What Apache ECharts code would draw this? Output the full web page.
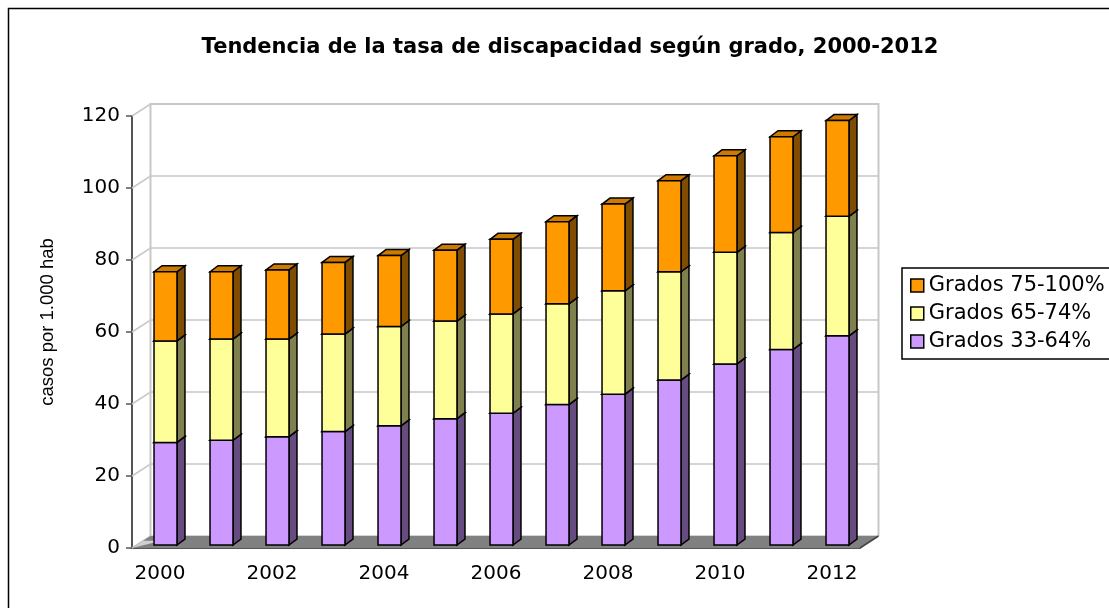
<!DOCTYPE html>
<html>
<head>
<meta charset="utf-8">
<title>Tendencia de la tasa de discapacidad</title>
<script src="https://cdn.jsdelivr.net/npm/echarts@6/dist/echarts.min.js"></script>
<style>
html, body { margin: 0; padding: 0; background: #fff; }
#main { width: 1109px; height: 608px; }
</style>
</head>
<body>
<div id="main"></div>
<script>
// datos (casos por 1.000 hab)
var years = ['2000', '2001', '2002', '2003', '2004', '2005', '2006', '2007', '2008', '2009', '2010', '2011', '2012'];
var grados3364 = [28.5, 29.1, 30.1, 31.5, 33.1, 35.1, 36.6, 39.0, 41.9, 45.8, 50.3, 54.3, 58.1];
var grados6574 = [28.2, 28.1, 27.1, 27.1, 27.6, 27.1, 27.6, 28.0, 28.7, 30.1, 31.0, 32.5, 33.2];
var grados75100 = [19.2, 18.7, 19.2, 19.9, 19.7, 19.7, 20.7, 22.8, 24.1, 25.3, 26.8, 26.6, 26.6];
var yTicks = [0, 20, 40, 60, 80, 100, 120];

// profundidad de la "caja" 3D (pared del fondo) y de las barras
var DX = 18.5, DY = 12;
var BDX = 8, BDY = 6;

var myChart = echarts.init(document.getElementById('main'));

// serie de barras 3D apiladas
function barra(name, vals, bases, front, side, top) {
	return {
		name: name,
		type: 'custom',
		coordinateSystem: 'cartesian2d',
		z: 5,
		itemStyle: { color: front, borderColor: '#000', borderWidth: 1.5 },
		data: vals.map(function(v, i) { return [i, bases[i], bases[i] + v]; }),
		encode: { x: 0, y: [1, 2] },
		renderItem: function(params, api) {
			var i = api.value(0);
			var p0 = api.coord([i, api.value(1)]);
			var p1 = api.coord([i, api.value(2)]);
			var band = api.size([1, 0])[0];
			var w = band * 0.41;
			var x = p0[0] - w / 2 + 5.5;
			var yb = p0[1] - 3, yt = p1[1] - 3;
			var st = { stroke: '#000', lineWidth: 1.5 };
			return {
				type: 'group',
				children: [
					{ type: 'polygon', shape: { points: [[x + w, yb], [x + w + BDX, yb - BDY], [x + w + BDX, yt - BDY], [x + w, yt]] },
					  style: { fill: side, stroke: st.stroke, lineWidth: st.lineWidth } },
					{ type: 'polygon', shape: { points: [[x, yt], [x + BDX, yt - BDY], [x + w + BDX, yt - BDY], [x + w, yt]] },
					  style: { fill: top, stroke: st.stroke, lineWidth: st.lineWidth } },
					{ type: 'rect', shape: { x: x, y: yt, width: w, height: yb - yt },
					  style: { fill: front, stroke: st.stroke, lineWidth: st.lineWidth } }
				]
			};
		}
	};
}

var base2 = grados3364.slice();
var base3 = grados3364.map(function(v, i) { return v + grados6574[i]; });
var base1 = grados3364.map(function() { return 0; });

myChart.setOption({
	animation: false,
	textStyle: { fontFamily: 'DejaVu Sans' },
	graphic: [{
		type: 'rect', silent: true,
		shape: { x: 8.5, y: 8.5, width: 1200, height: 700 },
		style: { fill: null, stroke: '#000', lineWidth: 1.5 }
	}],
	title: {
		text: 'Tendencia de la tasa de discapacidad según grado, 2000-2012',
		left: 565,
		textAlign: 'center',
		top: 32,
		textStyle: { fontSize: 21, fontWeight: 'bold', color: '#000', fontFamily: 'DejaVu Sans' }
	},
	legend: {
		orient: 'vertical',
		left: 902,
		top: 268,
		padding: [7, 30, 7, 8],
		itemGap: 7,
		itemWidth: 13,
		itemHeight: 13,
		icon: 'rect',
		borderColor: '#000',
		borderWidth: 1.5,
		itemStyle: { borderColor: '#000', borderWidth: 1.5 },
		textStyle: { fontSize: 21, color: '#000', fontFamily: 'DejaVu Sans' },
		data: ['Grados 75-100%', 'Grados 65-74%', 'Grados 33-64%']
	},
	grid: { left: 132, right: 249, top: 116, bottom: 60 },
	xAxis: {
		type: 'category',
		data: years,
		axisLine: { lineStyle: { color: '#555', width: 2 } },
		axisTick: { interval: 0, length: 6, lineStyle: { color: '#555', width: 1.5 } },
		axisLabel: { interval: 1, fontSize: 20, color: '#000', margin: 16 },
		splitLine: { show: false }
	},
	yAxis: {
		type: 'value',
		min: 0,
		max: 120,
		interval: 20,
		name: 'casos por 1.000 hab',
		nameLocation: 'middle',
		nameRotate: 90,
		nameGap: 75,
		nameTextStyle: { fontSize: 18.5, color: '#000', fontFamily: 'Liberation Sans', padding: [0, 0, 0, 20] },
		axisLine: { show: true, lineStyle: { color: '#555', width: 2 } },
		axisTick: { show: true, length: 6, lineStyle: { color: '#555', width: 1.5 } },
		axisLabel: { fontSize: 20, color: '#000', margin: 12 },
		splitLine: { show: false }
	},
	series: [
		{
			// pared del fondo, lineas de division y suelo
			type: 'custom',
			silent: true,
			z: 1,
			data: [[0, 0]],
			renderItem: function(params, api) {
				var cs = params.coordSys;
				var x0 = cs.x, x1 = cs.x + cs.width;
				var children = yTicks.map(function(v) {
					var y = api.coord([0, v])[1];
					return { type: 'polyline', shape: { points: [[x0, y], [x0 + DX, y - DY], [x1 + DX, y - DY]] },
					         style: { stroke: '#c8c8c8', fill: null, lineWidth: 1.5 } };
				});
				var yTop = api.coord([0, yTicks[yTicks.length - 1]])[1] - DY;
				var yBot = api.coord([0, 0])[1];
				children.push({ type: 'polyline', shape: { points: [[x0 + DX, yBot - DY], [x0 + DX, yTop], [x1 + DX, yTop], [x1 + DX, yBot - DY]] },
				                style: { stroke: '#c8c8c8', fill: null, lineWidth: 2 } });
				children.push({ type: 'polygon', shape: { points: [[x0, yBot], [x1, yBot], [x1 + DX, yBot - DY], [x0 + DX, yBot - DY]] },
				                style: { fill: '#808080', stroke: null } });
				children.push({ type: 'polygon', shape: { points: [[x0, yBot], [x0 + DX * 0.6, yBot - DY * 0.6], [x0 + DX * 1.6, yBot - DY * 0.6]] },
				                style: { fill: '#d0d0d0', stroke: null } });
				children.push({ type: 'line', shape: { x1: x1, y1: yBot, x2: x1 + DX, y2: yBot - DY },
				                style: { stroke: '#444', lineWidth: 1.5 } });
				return { type: 'group', children: children };
			}
		},
		barra('Grados 33-64%', grados3364, base1, '#CC99FF', '#664C80', '#A37ACC'),
		barra('Grados 65-74%', grados6574, base2, '#FFFF99', '#80804C', '#CCCC7A'),
		barra('Grados 75-100%', grados75100, base3, '#FF9900', '#7F4C00', '#CC7A00')
	]
});
</script>
</body>
</html>
